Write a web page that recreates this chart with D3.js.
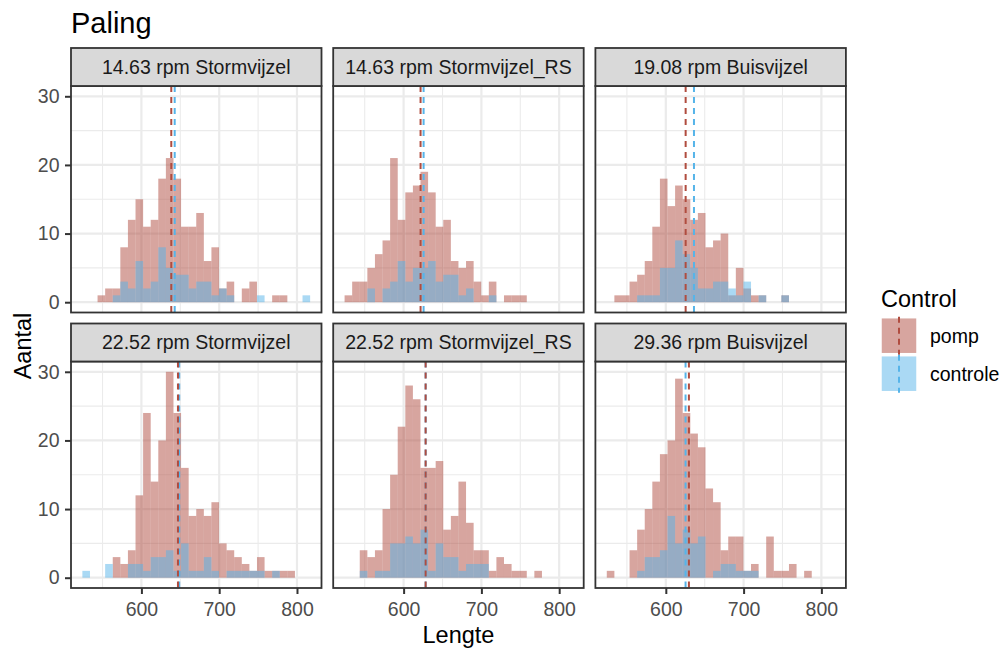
<!DOCTYPE html>
<html lang="en">
<head>
<meta charset="UTF-8">
<title>Paling</title>
<style>
  body { margin: 0; background: white; }
  #svg { display: block; font-family: "Liberation Sans", Arial, sans-serif; }
</style>
<script src="https://d3js.org/d3.v7.min.js"></script>
</head>
<body>
<svg id="svg"></svg>
<script>
const panels = ["14.63 rpm Stormvijzel", "14.63 rpm Stormvijzel_RS", "19.08 rpm Buisvijzel",
                "22.52 rpm Stormvijzel", "22.52 rpm Stormvijzel_RS", "29.36 rpm Buisvijzel"];
const groups = ["pomp", "controle"];

// histogram bins (ggplot default bins = 30 over the whole Lengte range)
const binCount = 30;
const lengthMin = 529;
const lengthMax = 812;

// counts per bin, one row per panel
const pompCounts = [
  [0,0,1,2,2,8,12,15,11,12,18,21,18,11,11,13,6,8,2,3,0,2,3,0,0,1,1,0,0,0],
  [1,3,3,5,7,9,21,12,16,17,19,16,11,12,6,5,6,3,1,3,0,1,1,1,0,0,0,0,0,0],
  [0,1,1,3,4,6,11,18,14,17,15,12,13,8,9,10,1,5,2,1,1,0,0,1,0,0,0,0,0,0],
  [0,0,0,0,3,2,4,12,24,14,20,30,24,16,9,10,9,11,5,4,3,2,1,3,1,1,1,1,0,0],
  [0,0,4,3,4,10,15,22,28,26,16,16,17,7,9,14,8,4,4,1,3,2,1,1,0,1,0,0,0,0],
  [1,0,0,4,7,10,14,18,20,29,24,21,19,13,11,4,6,6,1,2,0,6,1,1,2,0,1,0,0,0]
];
const controleCounts = [
  [0,0,0,0,1,3,2,6,2,3,8,5,4,4,2,3,3,1,2,1,0,0,0,1,0,0,0,0,0,1],
  [0,0,0,2,0,2,3,6,3,5,5,6,3,4,4,1,2,0,0,1,0,0,0,0,0,0,0,0,0,0],
  [0,0,0,0,1,1,1,5,5,9,7,5,2,2,3,3,2,1,3,0,1,0,0,1,0,0,0,0,0,0],
  [1,0,0,2,0,0,2,2,1,3,3,4,1,5,1,1,3,1,0,1,1,1,1,1,0,1,0,0,0,0],
  [0,0,1,0,1,1,5,5,6,5,7,1,5,3,3,1,2,2,2,0,0,0,0,0,0,0,0,0,0,0],
  [0,0,0,0,1,3,3,4,9,5,7,5,6,0,1,2,2,1,1,1,0,0,0,0,0,0,0,0,0,0]
];

// mean Lengte per panel (dashed lines)
const pompMeans = [638.4, 621.8, 625.5, 647.0, 628.3, 629.7];
const controleMeans = [642.8, 625.7, 636.2, 648.6, 628.3, 625.4];

const xTicks = [600, 700, 800];
const xMinor = [550, 650, 750];
const yTicks = [0, 10, 20, 30];
const yMinor = [5, 15, 25];

const colors = { pomp: "#B04C3F", controle: "#56B4E9" };

const width = 1003;
const height = 653;
const panelLeft = 71;
const panelW = 250.5;
const gapX = 11.7;
const stripTop = 48;
const stripH = 38;
const panelH = 226.5;
const gapY = 11;

const svg = d3.select("#svg").attr("width", width).attr("height", height);

const binWidth = (lengthMax - lengthMin) / (binCount - 1);
const edge0 = lengthMin - binWidth / 2;
const edgeN = edge0 + binCount * binWidth;
const xPad = 0.05 * (edgeN - edge0);
const x = d3.scaleLinear().domain([edge0 - xPad, edgeN + xPad]).range([0, panelW]);

const yMax = d3.max(pompCounts.concat(controleCounts), d => d3.max(d));
const y = d3.scaleLinear().domain([-0.05 * yMax, 1.05 * yMax]).range([panelH, 0]);

function bins(counts) {
  return counts.map((c, k) => ({ x0: edge0 + k * binWidth, x1: edge0 + (k + 1) * binWidth, n: c }))
    .filter(d => d.n > 0);
}

panels.forEach((name, i) => {
  const col = i % 3;
  const row = Math.floor(i / 3);
  const gx = panelLeft + col * (panelW + gapX);
  const gs = stripTop + row * (stripH + panelH + gapY);
  const g = svg.append("g").attr("transform", "translate(" + gx + "," + (gs + stripH) + ")");

  // grid
  g.selectAll(".xminor").data(xMinor).enter().append("line")
    .attr("x1", d => x(d)).attr("x2", d => x(d)).attr("y1", 0).attr("y2", panelH)
    .attr("stroke", "#EBEBEB").attr("stroke-width", 1.1);
  g.selectAll(".yminor").data(yMinor).enter().append("line")
    .attr("y1", d => y(d)).attr("y2", d => y(d)).attr("x1", 0).attr("x2", panelW)
    .attr("stroke", "#EBEBEB").attr("stroke-width", 1.1);
  g.selectAll(".xmajor").data(xTicks).enter().append("line")
    .attr("x1", d => x(d)).attr("x2", d => x(d)).attr("y1", 0).attr("y2", panelH)
    .attr("stroke", "#EBEBEB").attr("stroke-width", 2.2);
  g.selectAll(".ymajor").data(yTicks).enter().append("line")
    .attr("y1", d => y(d)).attr("y2", d => y(d)).attr("x1", 0).attr("x2", panelW)
    .attr("stroke", "#EBEBEB").attr("stroke-width", 2.2);

  // histograms, controle on top
  [["pomp", pompCounts[i]], ["controle", controleCounts[i]]].forEach(([grp, counts]) => {
    g.append("g").selectAll("rect").data(bins(counts)).enter().append("rect")
      .attr("x", d => x(d.x0))
      .attr("width", d => x(d.x1) - x(d.x0))
      .attr("y", d => y(d.n))
      .attr("height", d => y(0) - y(d.n))
      .attr("fill", colors[grp])
      .attr("fill-opacity", 0.5);
  });

  // mean lines
  [["controle", controleMeans[i]], ["pomp", pompMeans[i]]].forEach(([grp, m]) => {
    g.append("line")
      .attr("x1", x(m)).attr("x2", x(m)).attr("y1", 0).attr("y2", panelH)
      .attr("stroke", colors[grp]).attr("stroke-width", 2)
      .attr("stroke-dasharray", "6,5");
  });

  g.append("rect").attr("width", panelW).attr("height", panelH)
    .attr("fill", "none").attr("stroke", "#333333").attr("stroke-width", 1.8);

  // strip
  const s = svg.append("g").attr("transform", "translate(" + gx + "," + gs + ")");
  s.append("rect").attr("width", panelW).attr("height", stripH)
    .attr("fill", "#D9D9D9").attr("stroke", "#333333").attr("stroke-width", 1.8);
  s.append("text").attr("x", panelW / 2).attr("y", stripH / 2).attr("dy", "0.35em")
    .attr("text-anchor", "middle").attr("font-size", 19.5).attr("fill", "#1A1A1A")
    .text(name);

  // axes
  if (col === 0) {
    const ay = g.append("g").call(d3.axisLeft(y).tickValues(yTicks).tickSize(6).tickPadding(5.5));
    ay.select(".domain").remove();
    ay.selectAll("line").attr("stroke", "#333333").attr("stroke-width", 2);
    ay.selectAll("text").attr("font-size", 19.5).attr("fill", "#4D4D4D")
      .attr("font-family", "Liberation Sans, Arial, sans-serif");
  }
  if (row === 1) {
    const ax = g.append("g").attr("transform", "translate(0," + panelH + ")")
      .call(d3.axisBottom(x).tickValues(xTicks).tickSize(6).tickPadding(8.5));
    ax.select(".domain").remove();
    ax.selectAll("line").attr("stroke", "#333333").attr("stroke-width", 2);
    ax.selectAll("text").attr("font-size", 19.5).attr("fill", "#4D4D4D")
      .attr("font-family", "Liberation Sans, Arial, sans-serif");
  }
});

// titles
svg.append("text").attr("x", 71).attr("y", 33).attr("font-size", 29).attr("fill", "black").text("Paling");
svg.append("text").attr("x", panelLeft + (3 * panelW + 2 * gapX) / 2).attr("y", 643)
  .attr("text-anchor", "middle").attr("font-size", 23.5).attr("fill", "black").text("Lengte");
svg.append("text").attr("transform", "translate(31,346) rotate(-90)")
  .attr("text-anchor", "middle").attr("font-size", 23.5).attr("fill", "black").text("Aantal");

// legend
const legend = svg.append("g").attr("transform", "translate(880,0)");
legend.append("text").attr("x", 1).attr("y", 306.5).attr("font-size", 23.5).attr("fill", "black").text("Control");
const keySize = 38;
groups.forEach((grp, j) => {
  const ky = 316.7 + j * keySize;
  legend.append("rect").attr("x", 1.75).attr("y", ky + 1.75)
    .attr("width", keySize - 3.5).attr("height", keySize - 3.5)
    .attr("fill", colors[grp]).attr("fill-opacity", 0.5);
  legend.append("line").attr("x1", keySize / 2).attr("x2", keySize / 2)
    .attr("y1", ky).attr("y2", ky + keySize)
    .attr("stroke", colors[grp]).attr("stroke-width", 2).attr("stroke-dasharray", "6,5");
  legend.append("text").attr("x", 50).attr("y", ky + keySize / 2).attr("dy", "0.35em")
    .attr("font-size", 19.5).attr("fill", "black").text(grp);
});
</script>
</body>
</html>
